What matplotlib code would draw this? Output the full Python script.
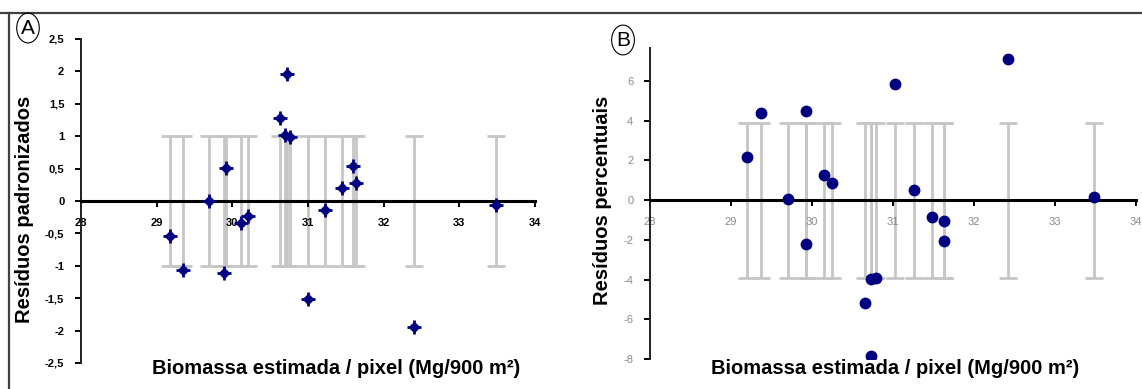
import matplotlib
matplotlib.use("Agg")
import matplotlib.pyplot as plt
from matplotlib.lines import Line2D

plt.rcParams['font.family'] = ['Liberation Sans', 'DejaVu Sans']

# ---- data ----
xA = [29.18, 29.35, 29.69, 29.89, 29.92, 30.11, 30.21, 30.63, 30.69, 30.72, 30.76,
      31.00, 31.22, 31.45, 31.59, 31.63, 32.40, 33.48]
yA = [-0.54, -1.06, 0.00, -1.11, 0.51, -0.34, -0.23, 1.28, 1.02, 1.96, 0.99,
      -1.51, -0.14, 0.20, 0.54, 0.28, -1.94, -0.06]
errA = 1.0

xB = [29.20, 29.37, 29.70, 29.93, 29.93, 30.15, 30.25, 30.65, 30.73, 30.73, 30.79,
      31.03, 31.26, 31.48, 31.63, 31.63, 32.42, 33.48]
yB = [2.17, 4.40, 0.05, 4.50, -2.20, 1.26, 0.85, -5.20, -3.95, -7.85, -3.90,
      5.83, 0.50, -0.84, -1.06, -2.07, 7.10, 0.15]
errB = 3.9

xticks = [28, 29, 30, 31, 32, 33, 34]
yticksA = [-2.5, -2, -1.5, -1, -0.5, 0, 0.5, 1, 1.5, 2, 2.5]
yticklabelsA = ['-2,5', '-2', '-1,5', '-1', '-0,5', '0', '0,5', '1', '1,5', '2', '2,5']
yticksB = [-8, -6, -4, -2, 0, 2, 4, 6]

xlabel = 'Biomassa estimada / pixel (Mg/900 m²)'
ylabelA = 'Resíduos padronizados'
ylabelB = 'Resíduos percentuais'

W, H = 1142, 389
fig = plt.figure(figsize=(W / 100, H / 100), dpi=100)
fig.patch.set_facecolor('white')

navy = '#000080'
grey = '#c6c6c6'


def setup(ax, ylim, yticks, ylabels, tickcolor, bold):
    ax.set_xlim(28, 34)
    ax.set_ylim(*ylim)
    ax.set_facecolor('none')
    for s in ('top', 'right'):
        ax.spines[s].set_visible(False)
    ax.spines['bottom'].set_position(('data', 0))
    ax.spines['bottom'].set_linewidth(2.2)
    ax.spines['bottom'].set_color('black')
    ax.spines['bottom'].set_zorder(2.5)
    ax.spines['left'].set_linewidth(1.4)
    ax.spines['left'].set_color('#202020')
    ax.set_xticks(xticks)
    ax.set_xticklabels([str(t) for t in xticks])
    ax.set_yticks(yticks)
    ax.set_yticklabels(ylabels)
    ax.tick_params(axis='x', direction='out', length=4, width=1.4, pad=8,
                   labelsize=8, labelcolor=tickcolor)
    ax.tick_params(axis='y', direction='out', length=4, width=1.4, pad=8,
                   labelsize=8, labelcolor=tickcolor)
    for lab in ax.get_xticklabels() + ax.get_yticklabels():
        lab.set_fontweight('bold' if bold else 'normal')


axA = fig.add_axes([81 / W, 1 - 363 / H, (535 - 81) / W, (363 - 39) / H])
setup(axA, (-2.5, 2.5), yticksA, yticklabelsA, 'black', True)
axA.errorbar(xA, [0] * len(xA), yerr=errA, fmt='none', ecolor=grey,
             elinewidth=2, capsize=6.5, capthick=2, zorder=1)
axA.plot(xA, yA, linestyle='none', marker='D', markersize=5, color=navy, zorder=3)
axA.plot(xA, yA, linestyle='none', marker='+', markersize=10, mew=2, color=navy, zorder=3)

axB = fig.add_axes([650 / W, 1 - 359 / H, (1136 - 650) / W, (359 - 48) / H])
setup(axB, (-8, 7.65), yticksB, [str(t) for t in yticksB], '#8a8a8a', False)
axB.errorbar(xB, [0] * len(xB), yerr=errB, fmt='none', ecolor=grey,
             elinewidth=2, capsize=6.5, capthick=2, zorder=1)
axB.plot(xB, yB, linestyle='none', marker='o', markersize=7.5, color=navy, zorder=3)

# axis titles
fig.text(336 / W, 1 - 368 / H, xlabel, ha='center', va='center',
         fontsize=14.5, fontweight='bold')
fig.text(895 / W, 1 - 368 / H, xlabel, ha='center', va='center',
         fontsize=14.5, fontweight='bold')
fig.text(25 / W, 1 - 209 / H, ylabelA, ha='center', va='center', rotation=90,
         fontsize=14.5, fontweight='bold')
fig.text(603 / W, 1 - 200 / H, ylabelB, ha='center', va='center', rotation=90,
         fontsize=14.5, fontweight='bold')

# panel letters
fig.text(28 / W, 1 - 28 / H, 'A', ha='center', va='center', fontsize=15,
         bbox=dict(boxstyle='ellipse,pad=0.05', fc='none', ec='black', lw=0.8))
fig.text(623 / W, 1 - 40 / H, 'B', ha='center', va='center', fontsize=15,
         bbox=dict(boxstyle='ellipse,pad=0.05', fc='none', ec='black', lw=0.8))

# frame lines
fig.add_artist(Line2D([0, 1], [1 - 12.5 / H, 1 - 12.5 / H], transform=fig.transFigure,
                      color='#404040', lw=1.6))
fig.add_artist(Line2D([9 / W, 9 / W], [0, 1 - 12.5 / H], transform=fig.transFigure,
                      color='#404040', lw=1.6))

fig.savefig('out.png', dpi=100)
